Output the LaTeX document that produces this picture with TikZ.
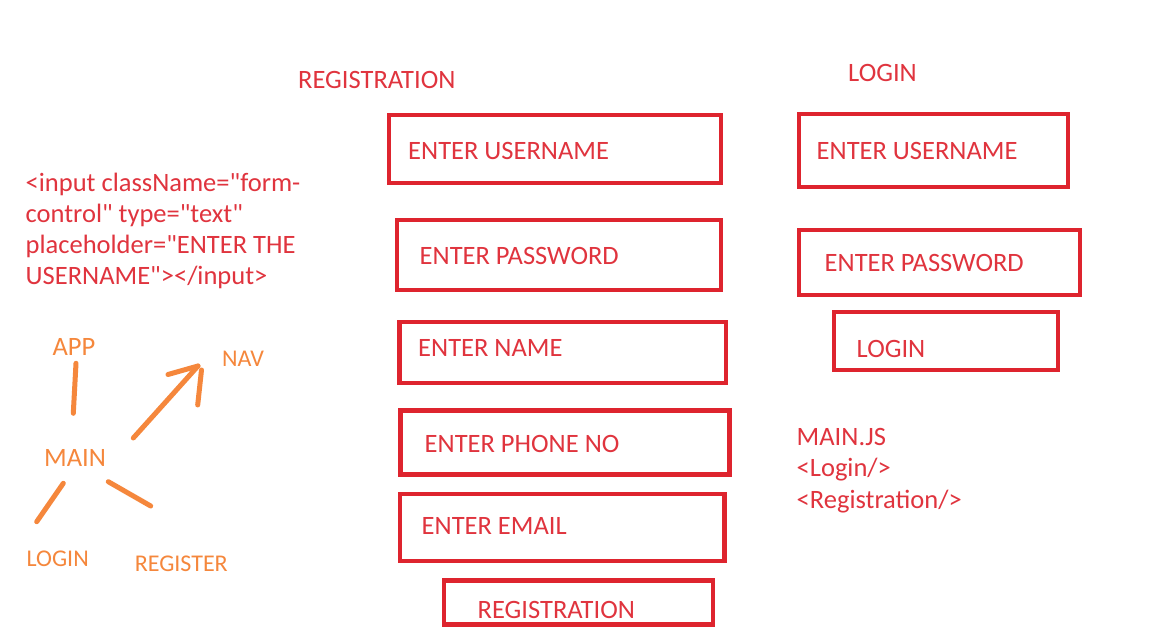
\documentclass[tikz,border=0pt]{standalone}
\usepackage{fontspec}
\setmainfont{Carlito}[Ligatures=TeXOff]
\definecolor{boxred}{RGB}{222,36,46}
\definecolor{txtred}{RGB}{224,52,62}
\definecolor{orng}{RGB}{245,135,60}
\begin{document}
\begin{tikzpicture}[x=1pt,y=-1pt,
  rbox/.style={draw=boxred, line width=4.5pt, rectangle, inner sep=0pt},
  rtext/.style={text=txtred, font=\fontsize{26.5}{31}\selectfont, inner sep=0pt, anchor=west},
  ttext/.style={text=txtred, font=\fontsize{26.5}{31}\selectfont, inner sep=0pt, anchor=west},
  ptext/.style={text=txtred, inner sep=0pt, anchor=north west, align=left},
  otext/.style={text=orng, font=\fontsize{24}{28}\selectfont, inner sep=0pt},
  obig/.style={otext, font=\fontsize{26.5}{30}\selectfont},
  oline/.style={draw=orng, line width=5pt, line cap=round}]
\useasboundingbox (0,0) rectangle (1152,639);
\fill[white] (0,0) rectangle (1152,639);

% titles
\node[ttext] (regtitle) at (298,80) {REGISTRATION};
\node[ttext] (logtitle) at (848,72.5) {LOGIN};

% registration boxes
\node[rbox, minimum width=332pt, minimum height=68pt] (r1) at (555,149) {};
\node[rbox, minimum width=324pt, minimum height=70pt] (r2) at (559,255) {};
\node[rbox, minimum width=326.5pt, minimum height=61pt] (r3) at (562.8,352.5) {};
\node[rbox, minimum width=329pt, minimum height=64pt] (r4) at (565,442.5) {};
\node[rbox, minimum width=324.5pt, minimum height=67pt] (r5) at (562,527.5) {};
\node[rbox, minimum width=269pt, minimum height=44pt] (r6) at (578.5,602.5) {};
\node[rtext] (r1t) at (408,150.7) {ENTER USERNAME};
\node[rtext] (r2t) at (419.5,255.8) {ENTER PASSWORD};
\node[rtext] (r3t) at (418,347.5) {ENTER NAME};
\node[rtext] (r4t) at (424.5,444) {ENTER PHONE NO};
\node[rtext] (r5t) at (421.5,525.8) {ENTER EMAIL};
\node[rtext] (r6t) at (477.5,610) {REGISTRATION};

% login boxes
\node[rbox, minimum width=269pt, minimum height=73pt] (l1) at (933.5,150.5) {};
\node[rbox, minimum width=281pt, minimum height=65pt] (l2) at (939.5,262.5) {};
\node[rbox, minimum width=224pt, minimum height=58pt] (l3) at (946,341) {};
\node[rtext] (l1t) at (816.5,150.8) {ENTER USERNAME};
\node[rtext] (l2t) at (824.5,263.3) {ENTER PASSWORD};
\node[rtext] (l3t) at (856.5,349.2) {LOGIN};

% notes
\node[ptext, font=\fontsize{26.5}{31.3}\selectfont] (code) at (25.5,172.5)
  {<input className="form-\\control" type="text"\\placeholder="ENTER THE\\USERNAME"></input>};
\node[ptext, font=\fontsize{26.5}{31.5}\selectfont] (mainjs) at (796.5,428)
  {MAIN.JS\\<Login/>\\<Registration/>};

% component tree
\node[obig] (app) at (74,346.7) {APP};
\node[otext] (nav) at (243,358.3) {NAV};
\node[obig] (main) at (75,457.5) {MAIN};
\node[otext] (login) at (57.7,558.3) {LOGIN};
\node[otext] (register) at (181.3,563.3) {REGISTER};

\coordinate (appA) at (76,363.3);
\coordinate (appB) at (73.3,413.3);
\coordinate (navA) at (133.3,438);
\coordinate (navB) at (198,366);
\coordinate (navL) at (168,374.5);
\coordinate (navR1) at (201.5,370);
\coordinate (navR2) at (197.7,405);
\coordinate (logA) at (63.3,483.3);
\coordinate (logB) at (36.7,521.7);
\coordinate (regA) at (108.3,481.7);
\coordinate (regB) at (150.7,506);

\draw[oline] (appA) -- (appB);
\draw[oline] (navA) -- (navB);
\draw[oline] (navL) -- (navB);
\draw[oline] (navR1) -- (navR2);
\draw[oline] (logA) -- (logB);
\draw[oline] (regA) -- (regB);
\end{tikzpicture}
\end{document}
